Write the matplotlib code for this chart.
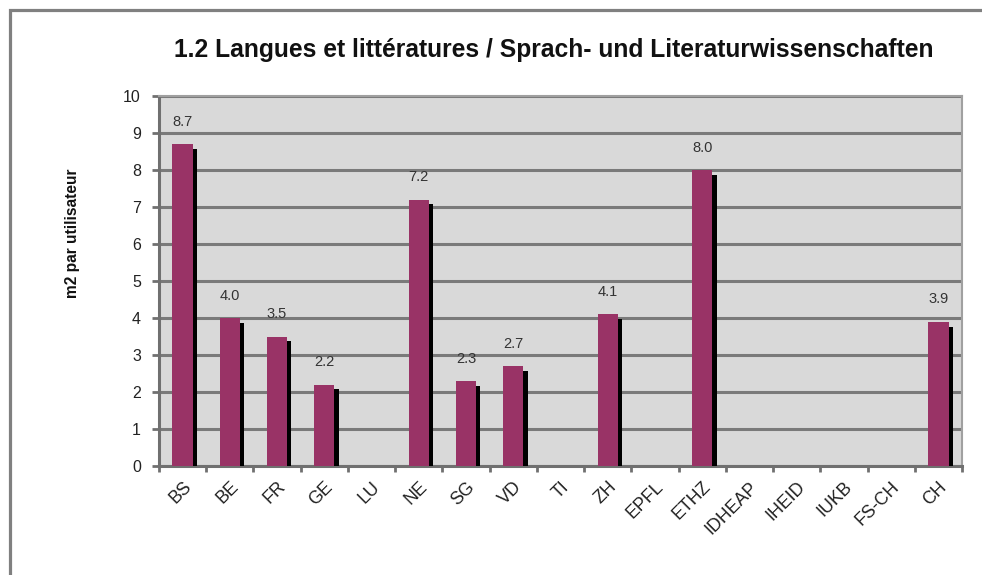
import matplotlib
matplotlib.use("Agg")
import matplotlib.pyplot as plt
import matplotlib.patheffects as pe
from matplotlib.patches import Rectangle
import numpy as np

categories = ["BS", "BE", "FR", "GE", "LU", "NE", "SG", "VD", "TI", "ZH",
              "EPFL", "ETHZ", "IDHEAP", "IHEID", "IUKB", "FS-CH", "CH"]
values = [8.7, 4.0, 3.5, 2.2, None, 7.2, 2.3, 2.7, None, 4.1,
          None, 8.0, None, None, None, None, 3.9]
y_ticks = list(range(0, 11))
title = "1.2 Langues et littératures / Sprach- und Literaturwissenschaften"
ylabel = "m2 par utilisateur"

plt.rcParams['font.family'] = ['Liberation Sans', 'DejaVu Sans']

W, H = 982, 575
fig = plt.figure(figsize=(W / 100, H / 100), dpi=100)
fig.patch.set_facecolor('white')

# outer frame
fig.patches.append(Rectangle((9.5 / W, -0.2), 1.5, 1.2 - 9.5 / H,
                             transform=fig.transFigure, fill=False,
                             edgecolor='#808080', linewidth=2.3))

ax = fig.add_axes([159 / W, 1 - 466 / H, (962 - 159) / W, (466 - 96) / H])
ax.set_facecolor('#d9d9d9')

x = np.arange(len(categories))
for i, v in enumerate(values):
    if v is None:
        continue
    bars = ax.bar(x[i], v, width=0.43, color='#993366', zorder=3, linewidth=0)
    for b in bars:
        b.set_path_effects([pe.SimplePatchShadow(offset=(3, -3.5), shadow_rgbFace='black', alpha=1.0),
                            pe.Normal()])
    ax.annotate(f"{v:.1f}", (x[i], v), xytext=(0, 16), textcoords='offset points',
                ha='center', va='center', fontsize=10.5, color='#333333', zorder=5)

ax.set_xlim(-0.5, len(categories) - 0.5)
ax.set_ylim(0, 10)
ax.set_yticks(y_ticks)
ax.set_yticklabels([str(t) for t in y_ticks], fontsize=11.5, color='#222222')
ax.yaxis.grid(True, color='#7a7a7a', linewidth=2.2, zorder=1)
ax.set_axisbelow(True)

ax.set_xticks(x)
ax.set_xticklabels(categories, rotation=45, ha='right', rotation_mode='anchor',
                   fontsize=12.8, color='#222222')
ax.tick_params(axis='x', which='major', length=0, pad=9)
ax.set_xticks(np.arange(-0.5, len(categories), 1), minor=True)
ax.tick_params(axis='x', which='minor', length=4, width=2, color='#707070', direction='out')
ax.tick_params(axis='y', length=5, width=2, color='#707070', direction='out', pad=8)

for s in ['left', 'bottom']:
    ax.spines[s].set_color('#707070')
    ax.spines[s].set_linewidth(2.2)
for s in ['top', 'right']:
    ax.spines[s].set_color('#a0a0a0')
    ax.spines[s].set_linewidth(1.5)

fig.text(554 / W, 1 - 50 / H, title, ha='center', va='center', fontsize=17.7,
         fontweight='bold', color='#111111')
fig.text(73 / W, 1 - 233 / H, ylabel, ha='center', va='center', rotation=90,
         fontsize=11.2, fontweight='bold', color='#111111')

fig.savefig("out.png", dpi=100)
